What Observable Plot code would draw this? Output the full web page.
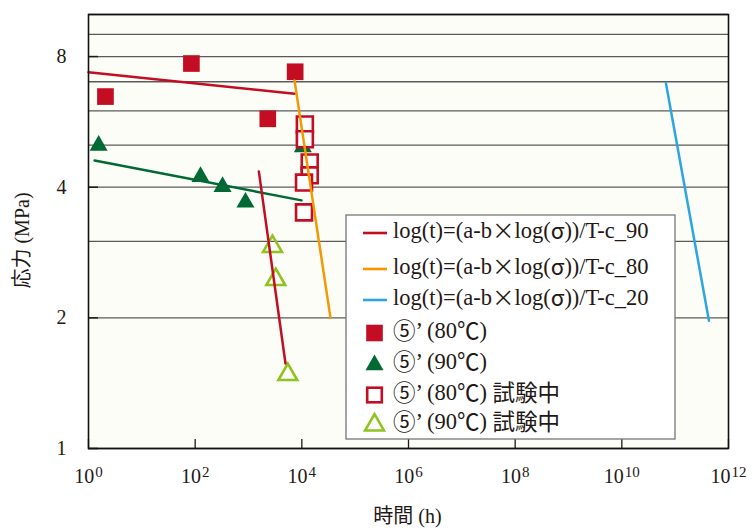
<!DOCTYPE html>
<html>
<head>
<meta charset="utf-8">
<script src="https://cdn.jsdelivr.net/npm/d3@7"></script>
<script src="https://cdn.jsdelivr.net/npm/@observablehq/plot@0.6"></script>
<style>
  html, body { margin: 0; padding: 0; background: #ffffff; }
  #chart { width: 753px; height: 530px; }
</style>
</head>
<body>
<div id="chart"></div>
<script>
// ---- axis ticks / grid ----
const xTicks = [1e0, 1e2, 1e4, 1e6, 1e8, 1e10, 1e12];
const yTicks = [1, 2, 4, 8];
const yGrid = [1, 2, 3, 4, 5, 6, 7, 8, 9, 10];

// ---- fitted lines (time h, stress MPa) ----
const redFitTime = [1, 7290];
const redFitStress = [7.36, 6.57];
const greenFitTime = [1.30, 9860];
const greenFitStress = [4.61, 3.73];
const c90Time = [1563, 4940];
const c90Stress = [4.35, 1.57];
const c80Time = [7290, 34500];
const c80Stress = [7.05, 2.0];
const c20Time = [6.7e10, 4.3e11];
const c20Stress = [6.95, 1.97];

// ---- measured points ----
const sq80Time = [2.08, 85, 2300, 7500];
const sq80Stress = [6.47, 7.71, 5.75, 7.38];
const tri90Time = [1.55, 126, 326, 877, 10450];
const tri90Stress = [4.99, 4.23, 4.01, 3.69, 4.95];
const open80Time = [11400, 11400, 14060, 14060, 10990, 10990];
const open80Stress = [5.58, 5.16, 4.56, 4.26, 4.10, 3.50];
const open90Time = [2820, 3250, 5460];
const open90Stress = [2.92, 2.45, 1.48];

// ---- legend ----
const legendLabels = [
  "log(t)=(a-b×log(σ))/T-c_90",
  "log(t)=(a-b×log(σ))/T-c_80",
  "log(t)=(a-b×log(σ))/T-c_20",
  "⑤’ (80℃)",
  "⑤’ (90℃)",
  "⑤’ (80℃) 試験中",
  "⑤’ (90℃) 試験中"
];
const yTitle = "応力 (MPa)";
const xTitle = "時間 (h)";

const RED = "#c30d23", ORANGE = "#f39800", BLUE = "#2ca6e0",
      DGREEN = "#006934", LGREEN = "#8fc31f", INK = "#231815";
const SERIF = "'Liberation Serif', serif";
const CJK = "'Noto Sans CJK JP', sans-serif";

const zip = (xs, ys) => xs.map((x, i) => ({x, y: ys[i]}));

const plot = Plot.plot({
  width: 753,
  height: 530,
  marginLeft: 88,
  marginRight: 25,
  marginTop: 14,
  marginBottom: 82,
  x: {type: "log", domain: [1, 1e12]},
  y: {type: "log", domain: [1, 10]},
  style: {background: "transparent", fontFamily: SERIF, fontSize: "20px", color: INK},
  marks: [
    Plot.frame({fill: "#fdfdf8", stroke: "none"}),
    Plot.ruleY(yGrid, {stroke: "#5a5a5a", strokeWidth: 1.3}),
    Plot.axisX(xTicks, {tickSize: 9, dy: -9, tickFormat: () => "", stroke: INK, strokeWidth: 1.3, label: null}),
    Plot.axisX(xTicks, {tickSize: 0, tickPadding: 20, fill: INK,
      tickFormat: d => "10^" + Math.round(Math.log10(d)), label: null}),
    Plot.axisY(yTicks, {tickSize: 10, dx: 10, tickFormat: () => "", stroke: INK, strokeWidth: 1.5, label: null}),
    Plot.axisY(yTicks, {tickSize: 0, tickPadding: 22, fill: INK, tickFormat: d => String(d), label: null}),
    // markers
    Plot.dot(zip(tri90Time, tri90Stress), {x: "x", y: "y", symbol: "triangle", r: 6.7, fill: DGREEN}),
    Plot.dot(zip(sq80Time, sq80Stress), {x: "x", y: "y", symbol: "square", r: 9.4, fill: RED}),
    Plot.dot(zip(open80Time, open80Stress), {x: "x", y: "y", symbol: "square", r: 9.0, fill: "#ffffff", stroke: RED, strokeWidth: 2.6}),
    Plot.dot(zip(open90Time, open90Stress), {x: "x", y: "y", symbol: "triangle", r: 7.0, fill: "none", stroke: LGREEN, strokeWidth: 2.6}),
    // lines
    Plot.line(zip(redFitTime, redFitStress), {x: "x", y: "y", stroke: RED, strokeWidth: 2.5}),
    Plot.line(zip(greenFitTime, greenFitStress), {x: "x", y: "y", stroke: DGREEN, strokeWidth: 2.5}),
    Plot.line(zip(c90Time, c90Stress), {x: "x", y: "y", stroke: RED, strokeWidth: 2.5}),
    Plot.line(zip(c80Time, c80Stress), {x: "x", y: "y", stroke: ORANGE, strokeWidth: 2.5}),
    Plot.line(zip(c20Time, c20Stress), {x: "x", y: "y", stroke: BLUE, strokeWidth: 2.5}),
    Plot.frame({stroke: "#111", strokeWidth: 1.6})
  ]
});

document.getElementById("chart").appendChild(plot);

const svg = d3.select(plot);

// superscript exponents in x tick labels
svg.selectAll('g[aria-label="x-axis tick label"] text').each(function () {
  const t = d3.select(this);
  const s = this.textContent;
  if (!s.includes("^")) return;
  const [base, exp] = s.split("^");
  t.text(null);
  t.append("tspan").text(base);
  t.append("tspan").attr("dx", 1).attr("dy", "-0.4em").attr("font-size", "15px").text(exp);
});

// split a string into runs: CJK-font glyphs vs serif glyphs
function isCJK(ch) {
  const c = ch.codePointAt(0);
  if (ch === "’") return false;
  return c >= 0x2100 || ch === "×" || ch === "σ";
}
function fillRuns(sel, str) {
  let runs = [];
  for (const ch of str) {
    const k = isCJK(ch);
    if (runs.length && runs[runs.length - 1].k === k) runs[runs.length - 1].s += ch;
    else runs.push({k, s: ch});
  }
  runs.forEach(r => sel.append("tspan").attr("font-family", r.k ? CJK : SERIF).text(r.s));
}

// axis titles
const yt = svg.append("text")
  .attr("transform", "translate(24,240.5) rotate(-90)")
  .attr("text-anchor", "middle")
  .attr("dominant-baseline", "middle")
  .attr("font-size", 20)
  .attr("fill", INK);
fillRuns(yt, yTitle);

const xt = svg.append("text")
  .attr("x", 407.5)
  .attr("y", 518)
  .attr("text-anchor", "middle")
  .attr("dominant-baseline", "middle")
  .attr("font-size", 20)
  .attr("fill", INK);
fillRuns(xt, xTitle);

// legend box
const lg = svg.append("g").attr("class", "legend");
lg.append("rect")
  .attr("x", 346).attr("y", 215).attr("width", 329).attr("height", 224)
  .attr("fill", "#ffffff").attr("stroke", "#777").attr("stroke-width", 1.3);

const rowY = [233, 269, 300, 333, 364, 395, 424];
const sx = 374.5, tx = 393;
const lineColors = [RED, ORANGE, BLUE];
legendLabels.forEach((lab, i) => {
  const y = rowY[i];
  if (i < 3) {
    lg.append("line").attr("x1", 363).attr("x2", 387).attr("y1", y).attr("y2", y)
      .attr("stroke", lineColors[i]).attr("stroke-width", 2.6);
  } else if (i === 3) {
    lg.append("rect").attr("x", sx - 8.3).attr("y", y - 8.3).attr("width", 16.6).attr("height", 16.6).attr("fill", RED);
  } else if (i === 4) {
    lg.append("path").attr("transform", `translate(${sx},${y + 1})`)
      .attr("d", d3.symbol(d3.symbolTriangle, Math.PI * 6.7 * 6.7)()).attr("fill", DGREEN);
  } else if (i === 5) {
    lg.append("rect").attr("x", sx - 7.3).attr("y", y - 7.3).attr("width", 14.6).attr("height", 14.6)
      .attr("fill", "#fff").attr("stroke", RED).attr("stroke-width", 2.6);
  } else {
    lg.append("path").attr("transform", `translate(${sx},${y + 1})`)
      .attr("d", d3.symbol(d3.symbolTriangle, Math.PI * 7 * 7)()).attr("fill", "none")
      .attr("stroke", LGREEN).attr("stroke-width", 2.6);
  }
  const t = lg.append("text").attr("x", tx).attr("y", y)
    .attr("text-anchor", "start")
    .attr("dominant-baseline", "middle")
    .attr("font-size", 22.5).attr("fill", INK);
  fillRuns(t, lab);
});
</script>
</body>
</html>
